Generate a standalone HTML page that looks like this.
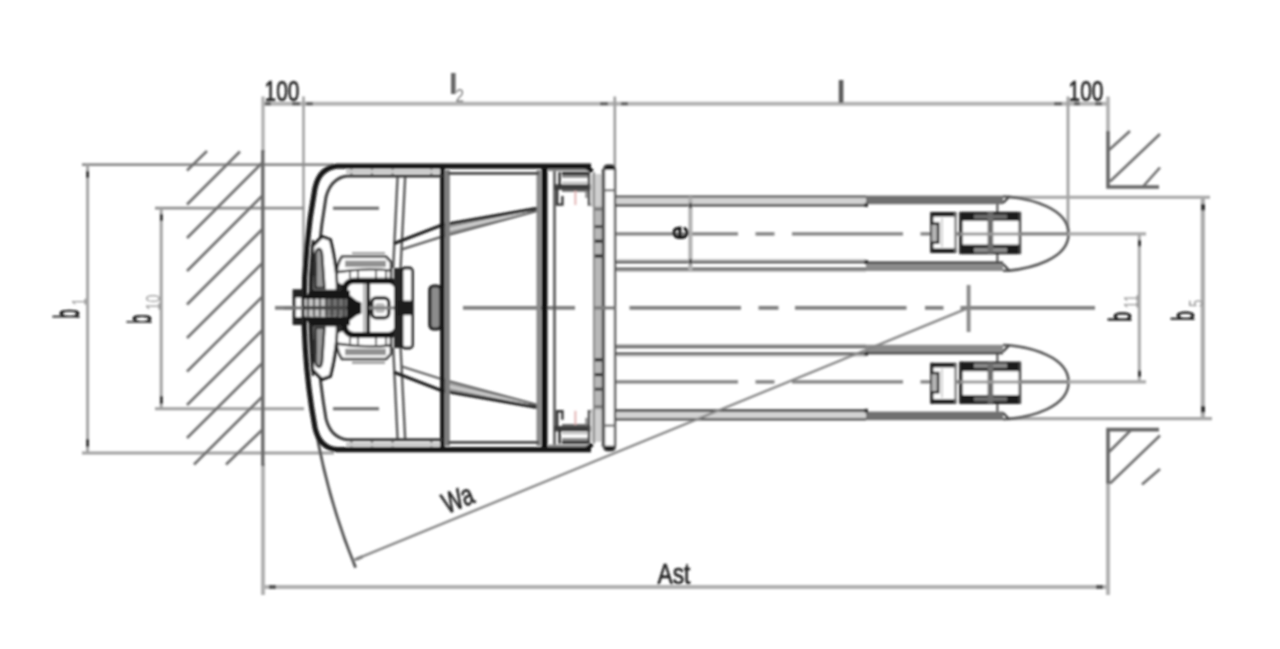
<!DOCTYPE html>
<html>
<head>
<meta charset="utf-8">
<title>Pallet truck dimensions</title>
<style>
html,body{margin:0;padding:0;background:#fff;}
body{width:1280px;height:649px;overflow:hidden;font-family:"Liberation Sans",sans-serif;}
svg{display:block;}
text{font-family:"Liberation Sans",sans-serif;}
</style>
</head>
<body>
<svg width="1280" height="649" viewBox="0 0 1280 649">
<defs>
<filter id="bl" x="-2%" y="-2%" width="104%" height="104%"><feGaussianBlur stdDeviation="0.85"/></filter>

<!-- ===== upper half symmetric parts (mirrored about y=307.9) ===== -->
<g id="half">
  <!-- fork: left part (light band) -->
  <rect x="616" y="197" width="250" height="8" fill="#d2d2d2"/>
  <line x1="616" y1="196.6" x2="866" y2="196.6" stroke="#555" stroke-width="2.4"/>
  <line x1="616" y1="205.2" x2="867" y2="205.2" stroke="#4a4a4a" stroke-width="2.6"/>
  <line x1="616" y1="262" x2="866" y2="262" stroke="#4a4a4a" stroke-width="2.6"/>
  <line x1="616" y1="270.4" x2="866" y2="270.4" stroke="#bdbdbd" stroke-width="3"/>
  <line x1="616" y1="268.9" x2="866" y2="268.9" stroke="#6a6a6a" stroke-width="2.6"/>
  <line x1="616" y1="260" x2="866" y2="260" stroke="#c8c8c8" stroke-width="2"/>
  <!-- fork: right part (dark band) -->
  <rect x="866" y="195.6" width="137" height="8.6" fill="#707070"/>
  <rect x="866" y="261.4" width="137" height="3" fill="#484848"/>
  <rect x="866" y="264.4" width="137" height="6.6" fill="#8a8a8a"/>
  <rect x="864.5" y="203" width="3.5" height="4" fill="#333"/>
  <rect x="864.5" y="260" width="3.5" height="4" fill="#333"/>
  <!-- tip -->
  <path d="M1003 196.5 L1009 196.8 C1030 199 1068.6 208 1068.6 233.7 C1068.6 259.4 1030 268.4 1009 270.6 L1003 270.8" fill="none" stroke="#555" stroke-width="2.6"/>
  <path d="M1009 196.8 L1003 203 M1009 270.4 L1003 264" fill="none" stroke="#444" stroke-width="2.4"/>
  <line x1="997.4" y1="204" x2="997.4" y2="262" stroke="#444" stroke-width="2"/>
  <!-- fork centre line -->
  <g stroke="#828282" stroke-width="3.4">
    <line x1="616" y1="233.9" x2="738" y2="233.9"/>
    <line x1="755.5" y1="233.9" x2="774.5" y2="233.9"/>
    <line x1="792" y1="233.9" x2="903" y2="233.9"/>
    <line x1="920.5" y1="233.9" x2="1068" y2="233.9"/>
  </g>
  <line x1="1068" y1="233.9" x2="1146" y2="233.9" stroke="#aaa" stroke-width="3.4"/>
  <!-- small wheel -->
  <rect x="931" y="212" width="25.5" height="41" fill="#fff"/>
  <rect x="931" y="212" width="25.5" height="4.6" fill="#1c1c1c"/>
  <rect x="931" y="248.4" width="25.5" height="4.6" fill="#1c1c1c"/>
  <rect x="930.2" y="212" width="3.2" height="41" fill="#222"/>
  <rect x="954.3" y="213" width="2.4" height="39" fill="#777"/>
  <rect x="932" y="223" width="6" height="20" fill="#b5b5b5"/>
  <path d="M932 223.6 H938.2 V242.8 H932" fill="none" stroke="#222" stroke-width="2.6"/>
  <line x1="942" y1="218" x2="942" y2="247" stroke="#c8c8c8" stroke-width="1.6"/>
  <!-- big wheel -->
  <rect x="960" y="212" width="60.5" height="42" fill="#fff"/>
  <rect x="960" y="211.8" width="60.5" height="9" fill="#1e1e1e"/>
  <rect x="960" y="244.6" width="60.5" height="9.6" fill="#1e1e1e"/>
  <rect x="974" y="214.6" width="33" height="4.2" fill="#6c6c6c"/>
  <rect x="974" y="248" width="33" height="4.2" fill="#8c8c8c"/>
  <rect x="959.2" y="212" width="3.4" height="42" fill="#222"/>
  <rect x="1018.6" y="212" width="2.6" height="42" fill="#444"/>
  <rect x="987.6" y="213" width="5.6" height="40" fill="#6e6e6e"/>
  <line x1="960" y1="233.9" x2="1021" y2="233.9" stroke="#9a9a9a" stroke-width="3"/>

  <!-- mast roller bracket -->
  <line x1="554.5" y1="170" x2="554.5" y2="308" stroke="#555" stroke-width="2.6"/>
  <rect x="548" y="167.6" width="44" height="3.6" fill="#8a8a8a"/>
  <line x1="562" y1="173.6" x2="588" y2="173.6" stroke="#222" stroke-width="3.2"/>
  <rect x="562" y="175" width="26" height="2.8" fill="#8a8a8a"/>
  <rect x="562" y="181.4" width="26" height="2.4" fill="#c4c4c4"/>
  <rect x="562" y="187.4" width="27" height="4.4" fill="#6c6c6c"/>
  <rect x="554.5" y="184.4" width="39.5" height="5.4" fill="#3c3c3c"/>
  <path d="M559.6 172 V187" fill="none" stroke="#333" stroke-width="2.6"/>
  <path d="M557.2 189 V204.6 H562.4 V196" fill="none" stroke="#333" stroke-width="2.4"/>
  <path d="M589 172 V204.6 H594.6" fill="none" stroke="#444" stroke-width="2.4"/>
  <path d="M586.4 190 V198" fill="none" stroke="#777" stroke-width="2"/>
  <line x1="575.4" y1="191" x2="575.4" y2="205" stroke="#e3b6b6" stroke-width="2"/>
  <path d="M585 166 L592.6 171.4" stroke="#111" stroke-width="4" fill="none"/>
  <!-- chain strip -->
  <rect x="590.6" y="174" width="11.4" height="33" fill="#cfcfcf"/>
  <rect x="594" y="206" width="8.4" height="102" fill="#b8b8b8"/>
  <line x1="594" y1="172" x2="594" y2="308" stroke="#8a8a8a" stroke-width="2"/>
  <line x1="602.8" y1="169" x2="602.8" y2="308" stroke="#555" stroke-width="2.2"/>
  <rect x="595" y="207.6" width="7" height="3" fill="#777"/>
  <rect x="595" y="225" width="7" height="3.2" fill="#444"/>
  <rect x="595" y="239.6" width="7" height="3.2" fill="#222"/>
  <rect x="595" y="254.4" width="7" height="3.2" fill="#222"/>
  <!-- carriage plate -->
  <path d="M604 308 V169.5 Q604 165.4 608 165.4 H611 Q615 165.4 615 169.5 V308" fill="#fff" stroke="#555" stroke-width="2.4"/>
  <path d="M605 167.6 Q605 165 608 165 H611 Q614 165 614 167.6 V170 H605 Z" fill="#222"/>
  <line x1="604" y1="190.2" x2="615" y2="190.2" stroke="#777" stroke-width="2.4"/>

  <!-- interior: posts and diagonal wedge -->
  <line x1="397.6" y1="176" x2="393.2" y2="268" stroke="#555" stroke-width="2.4"/>
  <line x1="405.2" y1="176" x2="400.6" y2="268" stroke="#555" stroke-width="2.4"/>
  <path d="M442 225 L538.7 208.2 L538.7 210.6 L442 236.5 Z" fill="#a6a6a6" stroke="none"/>
  <path d="M444 230.6 L530 211.6" fill="none" stroke="#ddd" stroke-width="1.6"/>
  <path d="M394 243.6 L442 225 L538.7 208.2" fill="none" stroke="#1e1e1e" stroke-width="3.2"/>
  <path d="M401 249.6 L442 236.6 L538 210.8" fill="none" stroke="#5a5a5a" stroke-width="2.2"/>
  <!-- hatch ticks in bumper band -->
  <g stroke="#666" stroke-width="2.2">
    <line x1="351.4" y1="168" x2="351.4" y2="176"/>
    <line x1="372" y1="168" x2="372" y2="176"/>
    <line x1="392.6" y1="168" x2="392.6" y2="176"/>
    <line x1="431.4" y1="168" x2="431.4" y2="176"/>
  </g>
</g>
</defs>

<rect x="0" y="0" width="1280" height="649" fill="#fff"/>

<g filter="url(#bl)">

<!-- ===== dimension lines ===== -->
<!-- top -->
<line x1="263" y1="103.7" x2="1108" y2="103.7" stroke="#b2b2b2" stroke-width="4"/>
<line x1="263" y1="96.5" x2="263" y2="152" stroke="#adadad" stroke-width="3.2"/>
<line x1="303.5" y1="96.5" x2="303.5" y2="292" stroke="#a2a2a2" stroke-width="2.6"/>
<line x1="614.8" y1="96.5" x2="614.8" y2="166" stroke="#9c9c9c" stroke-width="2.6"/>
<line x1="1068" y1="96.5" x2="1068" y2="234" stroke="#a0a0a0" stroke-width="2.8"/>
<line x1="1108" y1="96.5" x2="1108" y2="132" stroke="#b0b0b0" stroke-width="3.6"/>
<!-- arrow ticks top -->
<g fill="#555">
  <rect x="265" y="102.4" width="6" height="2.8"/>
  <rect x="292" y="102.4" width="8" height="2.8"/>
  <rect x="306" y="102.4" width="7" height="2.8"/>
  <rect x="600" y="102.4" width="8" height="2.8"/>
  <rect x="621" y="102.4" width="7" height="2.8"/>
  <rect x="1054" y="102.4" width="8" height="2.8"/>
  <rect x="1074" y="102.4" width="6" height="2.8"/>
  <rect x="1095" y="102.4" width="7" height="2.8"/>
</g>

<!-- left b1 / b10 -->
<line x1="82" y1="164.6" x2="334" y2="164.6" stroke="#8c8c8c" stroke-width="2.8"/>
<line x1="82" y1="453" x2="334" y2="453" stroke="#a0a0a0" stroke-width="3"/>
<line x1="87.6" y1="164.6" x2="87.6" y2="453" stroke="#a4a4a4" stroke-width="3"/>
<line x1="155" y1="208.2" x2="304" y2="208.2" stroke="#8f8f8f" stroke-width="2.8"/>
<line x1="155" y1="408.8" x2="304" y2="408.8" stroke="#a0a0a0" stroke-width="3"/>
<line x1="161.2" y1="208.2" x2="161.2" y2="408.8" stroke="#a2a2a2" stroke-width="3"/>
<g fill="#222">
  <rect x="86.4" y="171" width="2.6" height="7"/>
  <rect x="86.4" y="439" width="2.6" height="8"/>
  <rect x="160" y="214" width="2.6" height="7"/>
  <rect x="160" y="396" width="2.6" height="8"/>
</g>

<line x1="333" y1="208.2" x2="379" y2="208.2" stroke="#6a6a6a" stroke-width="3"/>
<line x1="333" y1="408.8" x2="379" y2="408.8" stroke="#6a6a6a" stroke-width="3"/>
<!-- right b11 / b5 -->
<line x1="1009" y1="197.2" x2="1210" y2="197.2" stroke="#a6a6a6" stroke-width="3"/>
<line x1="1009" y1="418.6" x2="1212" y2="418.6" stroke="#a6a6a6" stroke-width="3.4"/>
<line x1="1202.8" y1="197.2" x2="1202.8" y2="418.6" stroke="#ababab" stroke-width="4.2"/>
<line x1="1139.3" y1="234" x2="1139.3" y2="382.6" stroke="#a8a8a8" stroke-width="3"/>
<g fill="#333">
  <rect x="1201" y="204" width="4" height="6.4"/>
  <rect x="1201" y="406" width="4" height="6.4"/>
  <rect x="1138" y="240" width="3" height="6.4"/>
  <rect x="1138" y="370.6" width="3" height="6.4"/>
</g>

<!-- bottom Ast -->
<line x1="263" y1="587" x2="1108" y2="587" stroke="#b0b0b0" stroke-width="4.2"/>
<line x1="263" y1="464" x2="263" y2="595" stroke="#b2b2b2" stroke-width="4"/>
<line x1="1108" y1="484" x2="1108" y2="595" stroke="#b2b2b2" stroke-width="4"/>
<rect x="269" y="585" width="7" height="4" fill="#555"/>
<rect x="1096" y="585" width="7" height="4" fill="#555"/>

<!-- ===== walls & hatching ===== -->
<line x1="262.8" y1="150" x2="262.8" y2="466" stroke="#686868" stroke-width="3.4"/>
<g stroke="#6e6e6e" stroke-width="2.6">
  <line x1="187" y1="170.5" x2="207" y2="151"/>
  <line x1="187" y1="204.5" x2="240" y2="151.5"/>
  <line x1="187" y1="238" x2="262" y2="163"/>
  <line x1="187" y1="271" x2="262" y2="196"/>
  <line x1="187" y1="304.5" x2="262" y2="229.5"/>
  <line x1="187" y1="338" x2="262" y2="263.5"/>
  <line x1="187" y1="371.5" x2="262" y2="297"/>
  <line x1="187" y1="405" x2="262" y2="330.5"/>
  <line x1="187" y1="438" x2="262" y2="363.5"/>
  <line x1="194" y1="464.5" x2="262" y2="397"/>
  <line x1="226" y1="464.5" x2="262" y2="430"/>
</g>
<!-- right top wall -->
<path d="M1108 131 V187 H1159" fill="none" stroke="#666" stroke-width="3.6"/>
<g stroke="#6e6e6e" stroke-width="2.6">
  <line x1="1109" y1="150" x2="1130" y2="131"/>
  <line x1="1110" y1="181.5" x2="1160" y2="134"/>
  <line x1="1143.5" y1="186" x2="1160" y2="167.5"/>
</g>
<!-- right bottom wall -->
<path d="M1159 429.6 H1108 V484" fill="none" stroke="#666" stroke-width="3.6"/>
<g stroke="#6e6e6e" stroke-width="2.6">
  <line x1="1109" y1="452" x2="1131" y2="430"/>
  <line x1="1110" y1="483.5" x2="1160" y2="435.5"/>
  <line x1="1142" y1="484.5" x2="1160" y2="469"/>
</g>

<!-- ===== main centre line ===== -->
<g stroke="#808080" stroke-width="3.8">
  <line x1="275" y1="307.9" x2="296" y2="307.9"/>
  <line x1="463" y1="307.9" x2="575" y2="307.9"/>
  <line x1="629.5" y1="307.9" x2="741" y2="307.9"/>
  <line x1="758.5" y1="307.9" x2="778.5" y2="307.9"/>
  <line x1="795" y1="307.9" x2="906.5" y2="307.9"/>
  <line x1="925" y1="307.9" x2="943.5" y2="307.9"/>
  <line x1="960.5" y1="307.9" x2="1095" y2="307.9"/>
</g>
<line x1="968.6" y1="285" x2="968.6" y2="332" stroke="#888" stroke-width="3.8"/>

<!-- Wa line and arc -->
<path d="M314.2 420 A666.5 666.5 0 0 0 355.6 567.6" fill="none" stroke="#505050" stroke-width="2.8"/>
<rect x="0" y="0" width="7" height="3" fill="#444" transform="translate(355.5,558) rotate(-22.3)"/>

<!-- ===== truck symmetric halves ===== -->
<use href="#half"/>
<use href="#half" transform="matrix(1 0 0 -1 0 615.8)"/>

<line x1="594" y1="307.9" x2="615" y2="307.9" stroke="#808080" stroke-width="3.6"/>
<line x1="968.5" y1="307.9" x2="353" y2="560.4" stroke="#858585" stroke-width="2.4"/>
<!-- e dimension -->
<line x1="690.4" y1="197" x2="690.4" y2="271" stroke="#b0b0b0" stroke-width="4"/>
<rect x="689" y="203" width="3" height="5" fill="#444"/>
<rect x="689" y="259" width="3" height="5" fill="#444"/>

<!-- ===== body ===== -->
<!-- panels -->
<line x1="442.4" y1="166" x2="442.4" y2="450" stroke="#151515" stroke-width="4.6"/>
<line x1="447.4" y1="170" x2="447.4" y2="446" stroke="#7e7e7e" stroke-width="5"/>
<line x1="538.8" y1="170" x2="538.8" y2="446" stroke="#8a8a8a" stroke-width="4.6"/>
<line x1="544.5" y1="166" x2="544.5" y2="450" stroke="#111" stroke-width="6"/>
<line x1="448" y1="173.3" x2="539" y2="173.3" stroke="#444" stroke-width="2.8"/>
<line x1="448" y1="442.4" x2="539" y2="442.4" stroke="#444" stroke-width="2.8"/>
<!-- bumper inner curve -->
<path d="M442 176 H347 Q331 178 326 197 A653 653 0 0 0 326 418.8 Q331 437.8 347 439.8 H442" fill="none" stroke="#3a3a3a" stroke-width="3"/>
<!-- light band between -->
<path d="M346 171.4 H440" stroke="#c8c8c8" stroke-width="4" fill="none"/>
<path d="M346 444.4 H440" stroke="#c8c8c8" stroke-width="4" fill="none"/>
<!-- outer -->
<path d="M591 166.2 H337 Q319.6 167.6 315 188 A666.5 666.5 0 0 0 315 427.8 Q319.6 448.2 337 449.6 H591" fill="none" stroke="#141414" stroke-width="5.2"/>

<!-- button on panel -->
<rect x="429.8" y="286" width="11" height="43" rx="4" ry="4" fill="#8c8c8c" stroke="#1a1a1a" stroke-width="3.2"/>

<!-- ===== tiller head ===== -->
<g id="tiller">
  <!-- thick inner edge of outline near handle -->
  <path d="M313 240 A660 660 0 0 0 313 375.8" fill="none" stroke="#2a2a2a" stroke-width="2.6"/>
  <!-- wings -->
  <path d="M312.6 246 L322 236.5 L330.4 239.6 C333 250 336 265 337.6 284 L337.6 291 L312 291 Z" fill="#fff" stroke="#1e1e1e" stroke-width="3.2"/>
  <path d="M312.6 369.8 L322 379.3 L330.4 376.2 C333 365.8 336 350.8 337.6 331.8 L337.6 324.8 L312 324.8 Z" fill="#fff" stroke="#1e1e1e" stroke-width="3.2"/>
  <path d="M315.4 254 C317 247 321 247 322 254 L324.4 288 L315.4 288 Z" fill="#9a9a9a" stroke="#2a2a2a" stroke-width="2.6"/>
  <path d="M315.4 361.8 C317 368.8 321 368.8 322 361.8 L324.4 327.8 L315.4 327.8 Z" fill="#9a9a9a" stroke="#2a2a2a" stroke-width="2.6"/>
  <rect x="313" y="262" width="4" height="14" fill="#333"/>
  <rect x="313" y="339.8" width="4" height="14" fill="#333"/>
  <!-- wheel cover -->
  <path d="M342 256.8 H386 L391 262 V353.8 L386 359 H342 Q335.5 350 337 335 V281 Q335.5 266 342 256.8 Z" fill="#fff" stroke="#3a3a3a" stroke-width="2.6"/>
  <line x1="352" y1="253.2" x2="385" y2="253.2" stroke="#a5a5a5" stroke-width="2.6"/>
  <line x1="352" y1="362.6" x2="385" y2="362.6" stroke="#a5a5a5" stroke-width="2.6"/>
  <rect x="345" y="260.6" width="41" height="6.4" fill="#929292"/>
  <rect x="345" y="348.8" width="41" height="6.4" fill="#929292"/>
  <path d="M338 272 Q364 267.6 392 270.6" fill="none" stroke="#333" stroke-width="2.4"/>
  <path d="M338 343.8 Q364 348.2 392 345.2" fill="none" stroke="#333" stroke-width="2.4"/>
  <g stroke="#555" stroke-width="2">
    <line x1="350" y1="272" x2="350" y2="278"/><line x1="358" y1="271" x2="358" y2="278"/><line x1="376" y1="271" x2="376" y2="278"/><line x1="386" y1="271" x2="386" y2="278"/>
    <line x1="350" y1="343.8" x2="350" y2="337.8"/><line x1="358" y1="344.8" x2="358" y2="337.8"/><line x1="376" y1="344.8" x2="376" y2="337.8"/><line x1="386" y1="344.8" x2="386" y2="337.8"/>
  </g>
  <path d="M337 282 L346 286 V293 H337 Z M337 333.8 L346 329.8 V322.8 H337 Z" fill="#2a2a2a"/>
  <!-- head rounded rect -->
  <rect x="344.6" y="280.8" width="53" height="54.2" rx="9" ry="9" fill="#fff" stroke="#141414" stroke-width="6"/>
  <line x1="368.2" y1="281" x2="368.2" y2="335" stroke="#161616" stroke-width="3.8"/>
  <line x1="364.2" y1="284" x2="364.2" y2="332" stroke="#a2a2a2" stroke-width="2"/>
  <rect x="371.8" y="298" width="17" height="19.8" rx="4.5" ry="4.5" fill="#fff" stroke="#1a1a1a" stroke-width="3.4"/>
  <rect x="375" y="303" width="10" height="10" rx="3" ry="3" fill="#bbb"/>
  <line x1="369" y1="307.9" x2="394" y2="307.9" stroke="#808080" stroke-width="3"/>
  <!-- right bracket -->
  <rect x="394" y="268" width="9" height="80" fill="#262626"/>
  <rect x="402" y="268" width="10.4" height="80" rx="3" ry="3" fill="#fff" stroke="#1e1e1e" stroke-width="2.8"/>
  <rect x="397" y="300.6" width="15.6" height="14.6" fill="#1a1a1a"/>
  <!-- handle shaft -->
  <path d="M311 291 L320 290.6 H350 V299 H303 Z" fill="#161616"/>
  <path d="M311 324.8 L320 325.2 H350 V316.8 H303 Z" fill="#161616"/>
  <rect x="302" y="299" width="24" height="17.6" fill="#c4c4c4"/>
  <rect x="326" y="299" width="24" height="17.6" fill="#707070"/>
  <g stroke="#3a3a3a" stroke-width="1.8">
    <line x1="308" y1="299" x2="308" y2="316.6"/><line x1="314" y1="299" x2="314" y2="316.6"/><line x1="320" y1="299" x2="320" y2="316.6"/>
    <line x1="326" y1="299" x2="326" y2="316.6"/><line x1="332" y1="299" x2="332" y2="316.6"/><line x1="338" y1="299" x2="338" y2="316.6"/><line x1="344" y1="299" x2="344" y2="316.6"/>
  </g>
  <line x1="302" y1="307.8" x2="350" y2="307.8" stroke="#444" stroke-width="3.4"/>
  <path d="M347 293 L356.5 300.5 L361.4 302.4 V313.6 L356.5 315.4 L347 322.8 Z" fill="#141414"/>
  <rect x="294.2" y="291" width="8.6" height="32" fill="#fff" stroke="#1c1c1c" stroke-width="3"/>
  <rect x="292.8" y="289.6" width="10" height="8" fill="#222"/>
  <rect x="292.8" y="317" width="10" height="8" fill="#222"/>
  <line x1="284" y1="307.9" x2="303" y2="307.9" stroke="#777" stroke-width="3.2"/>
</g>

<!-- ===== labels ===== -->
<g fill="#222" stroke="#222" stroke-width="0.7">
  <text x="0" y="0" font-size="29" transform="translate(264.6,101) scale(0.72,1)">100</text>
  <text x="0" y="0" font-size="29" transform="translate(1068.6,100.6) scale(0.72,1)">100</text>
  <text x="0" y="0" font-size="30" transform="translate(657.5,584) scale(0.76,1)">Ast</text>
  <text x="0" y="0" font-size="29" transform="translate(447,514) rotate(-22.3) scale(0.74,1)">Wa</text>
</g>
<!-- l2 and l -->
<rect x="451" y="73" width="4.6" height="21" fill="#666"/>
<text x="0" y="0" font-size="19" fill="#777" transform="translate(455.6,102) scale(0.8,1)">2</text>
<rect x="838.8" y="80" width="4.6" height="23" fill="#5a5a5a"/>
<!-- e -->
<text x="0" y="0" font-size="27" fill="#111" stroke="#111" stroke-width="1.2" transform="translate(688.4,239.6) rotate(-90) scale(0.9,1.0)">e</text>
<!-- b1 -->
<text x="0" y="0" font-size="31" fill="#111" stroke="#111" stroke-width="0.9" transform="translate(79,318.6) rotate(-90) scale(0.54,1.12)">b</text>
<text x="0" y="0" font-size="19" fill="#999" transform="translate(85.6,305.6) rotate(-90) scale(0.7,1.1)">1</text>
<!-- b10 -->
<text x="0" y="0" font-size="31" fill="#111" stroke="#111" stroke-width="0.9" transform="translate(151,323.8) rotate(-90) scale(0.54,1.06)">b</text>
<text x="0" y="0" font-size="19" fill="#999" transform="translate(159.6,310.6) rotate(-90) scale(0.76,1.1)">10</text>
<!-- b11 -->
<text x="0" y="0" font-size="31" fill="#111" stroke="#111" stroke-width="0.9" transform="translate(1130.6,321.6) rotate(-90) scale(0.56,1.0)">b</text>
<text x="0" y="0" font-size="19" fill="#999" transform="translate(1138.4,308.4) rotate(-90) scale(0.7,1.1)">11</text>
<!-- b5 -->
<text x="0" y="0" font-size="31" fill="#111" stroke="#111" stroke-width="0.9" transform="translate(1194,320.8) rotate(-90) scale(0.56,1.0)">b</text>
<text x="0" y="0" font-size="19" fill="#999" transform="translate(1202.6,307) rotate(-90) scale(0.7,1.1)">5</text>

</g>
</svg>
</body>
</html>
